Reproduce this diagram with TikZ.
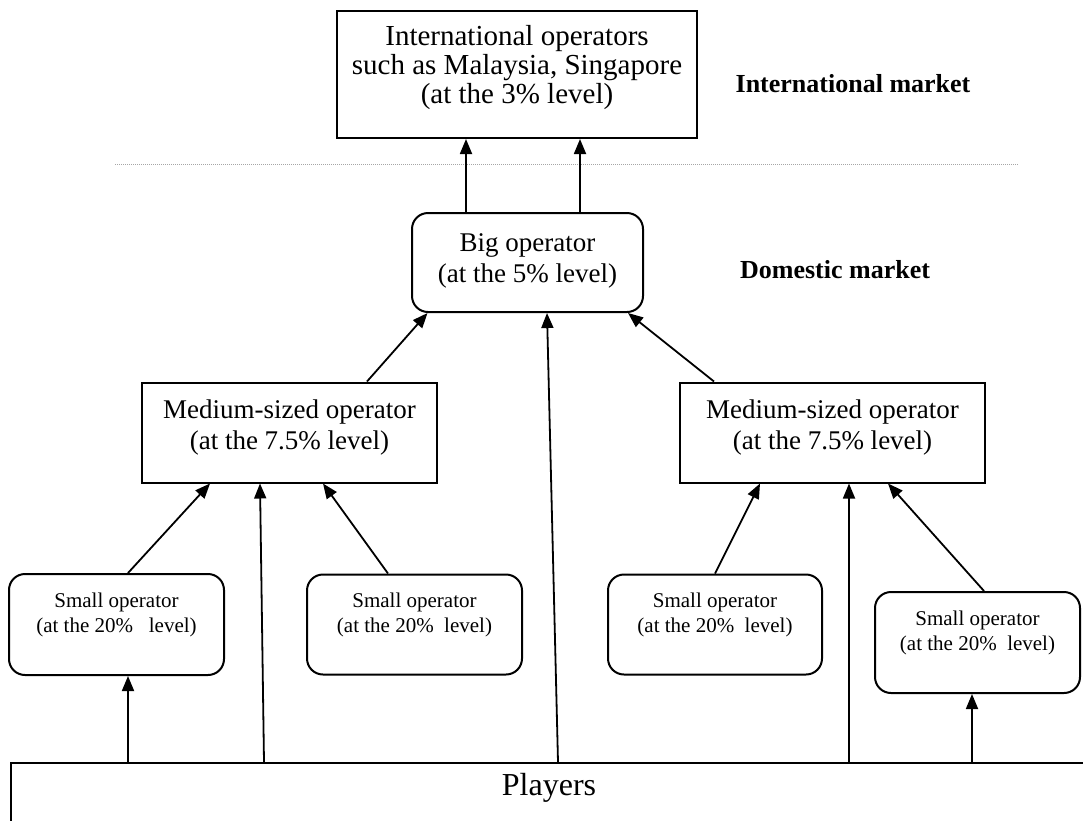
\documentclass[tikz,border=0pt]{standalone}
\usepackage{fontspec}
\setmainfont{Liberation Serif}
\usetikzlibrary{arrows.meta}
\begin{document}
\begin{tikzpicture}[x=1pt,y=-1pt,
  box/.style={draw, line width=2pt, inner sep=0pt},
  sqbox/.style={box},
  rbox/.style={box, rounded corners=16pt},
  txt/.style={align=center, inner sep=0pt},
  mainfont/.style={font=\fontsize{27}{31}\selectfont},
  topfont/.style={font=\fontsize{29}{29}\selectfont},
  smallfont/.style={font=\fontsize{21}{25}\selectfont},
  mkt/.style={font=\fontsize{26}{30}\selectfont\bfseries},
  arr/.style={line width=1.8pt, -{Triangle[length=15pt,width=12pt]}}
]
\useasboundingbox (0,0) rectangle (1083,820);
\clip (0,0) rectangle (1083,820);

% boxes
\node[sqbox, minimum width=360, minimum height=127] (top) at (517,74.5) {};
\node[txt, topfont] (topt) at (517,68) {International operators\\such as Malaysia, Singapore\\(at the 3\% level)};

\node[rbox, minimum width=231, minimum height=99] (big) at (527.5,262.5) {};
\node[txt, mainfont] (bigt) at (527.5,261) {Big operator\\(at the 5\% level)};

\node[sqbox, minimum width=295, minimum height=100] (medL) at (289.5,432.5) {};
\node[txt, mainfont] (medLt) at (289.5,427) {Medium-sized operator\\(at the 7.5\% level)};

\node[sqbox, minimum width=305, minimum height=100] (medR) at (832.5,432.5) {};
\node[txt, mainfont] (medRt) at (832.5,427) {Medium-sized operator\\(at the 7.5\% level)};

\node[rbox, minimum width=215, minimum height=101] (s1) at (116.5,624.5) {};
\node[txt, smallfont] (s1t) at (116.5,615) {Small operator\\(at the 20\%\ \ \ level)};

\node[rbox, minimum width=215, minimum height=100] (s2) at (414.5,624.5) {};
\node[txt, smallfont] (s2t) at (414.5,615) {Small operator\\(at the 20\%\ \ level)};

\node[rbox, minimum width=214, minimum height=100] (s3) at (715,624.5) {};
\node[txt, smallfont] (s3t) at (715,615) {Small operator\\(at the 20\%\ \ level)};

\node[rbox, minimum width=205, minimum height=101] (s4) at (977.5,642.5) {};
\node[txt, smallfont] (s4t) at (977.5,633) {Small operator\\(at the 20\%\ \ level)};

\node[sqbox, minimum width=1100, minimum height=90, anchor=north west] (players) at (10,762) {};
\node[font=\fontsize{32}{36}\selectfont, inner sep=0pt] (playerst) at (549,788) {Players};

% market labels
\node[mkt, inner sep=0pt] (intl) at (853,84) {International market};
\node[mkt, inner sep=0pt] (dom) at (835,270) {Domestic market};

% divider
\draw[gray!70, line width=1pt, dash pattern=on 1pt off 1pt] (115,164) -- (1018,164);

% connectors
\draw[arr] ([xshift=118pt]players.north west) -- ([xshift=11.5pt]s1.south);
\draw[arr] ([xshift=254pt]players.north west) -- ([xshift=-29.5pt]medL.south);
\draw[arr] ([xshift=548pt]players.north west) -- ([xshift=19.5pt]big.south);
\draw[arr] ([xshift=839pt]players.north west) -- ([xshift=16.5pt]medR.south);
\draw[arr] ([xshift=962pt]players.north west) -- ([xshift=-5.5pt]s4.south);

\draw[arr] ([xshift=11.5pt]s1.north) -- ([xshift=-79.5pt]medL.south);
\draw[arr] ([xshift=-26.5pt]s2.north) -- ([xshift=33.5pt]medL.south);
\draw[arr] (s3.north) -- ([xshift=-72.5pt]medR.south);
\draw[arr] ([xshift=6.5pt]s4.north) -- ([xshift=55.5pt]medR.south);

\draw[arr] ([xshift=77.5pt]medL.north) -- ([xshift=-100pt]big.south);
\draw[arr] ([xshift=-118.5pt]medR.north) -- ([xshift=100.5pt]big.south);

\draw[arr] ([xshift=-61.5pt]big.north) -- ([xshift=-51pt]top.south);
\draw[arr] ([xshift=52.5pt]big.north) -- ([xshift=63pt]top.south);
\end{tikzpicture}
\end{document}
